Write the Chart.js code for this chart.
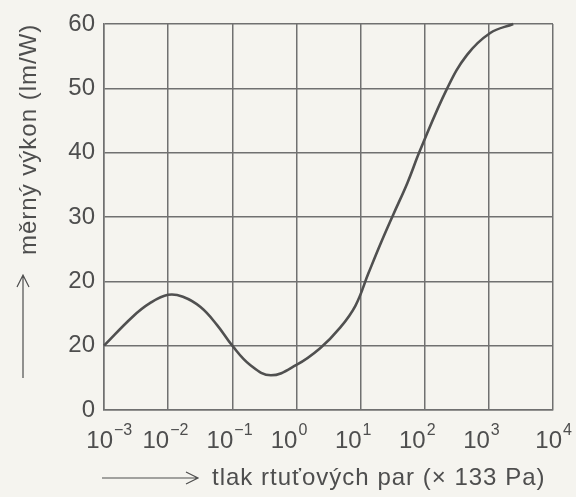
<!DOCTYPE html>
<html lang="cs">
<head>
<meta charset="UTF-8">
<title>Měrný výkon rtuťové výbojky</title>
<script src="https://cdn.jsdelivr.net/npm/chart.js"></script>
<style>
  html, body { margin: 0; padding: 0; background: #f5f4ef; }
  #wrap { width: 576px; height: 497px; }
</style>
</head>
<body>
<div id="wrap"><canvas id="chart" width="576" height="497"></canvas></div>
<script>
// pressure in units of 133 Pa, efficacy in lm/W
const pressure = [0.001, 0.0028, 0.0052, 0.01, 0.017, 0.032, 0.058, 0.1, 0.19, 0.4, 1, 2.34, 4.8, 8.3, 13.2, 20.4, 32.4, 53.7, 85, 224, 457, 1050, 2400];
const efficacy = [10, 14.5, 16.6, 17.9, 17.6, 16, 13.2, 10, 7, 5.4, 7, 9.6, 12.8, 16.2, 21.2, 25.8, 30.4, 35.3, 40.4, 50, 55.2, 58.6, 60];

const xTicks = [1e-3, 1e-2, 1e-1, 1e0, 1e1, 1e2, 1e3, 1e4];
const xExponents = ['\u22123', '\u22122', '\u22121', '0', '1', '2', '3', '4'];
const yTicks = [0, 10, 20, 30, 40, 50, 60];
const yTickLabels = ['0', '20', '20', '30', '40', '50', '60'];  // as printed

const xTitle = 'tlak rtuťových par (× 133 Pa)';
const yTitle = 'měrný výkon (lm/W)';

const ink = '#4e4e4e';
const gridColor = '#707070';
const curveColor = '#505050';
const fontFamily = '"Liberation Sans", Arial, sans-serif';

// draws x tick labels with superscripts and both axis titles with arrows
const labelsPlugin = {
  id: 'labels',
  afterDraw(chart) {
    const { ctx, scales: { x }, chartArea } = chart;
    ctx.save();
    ctx.fillStyle = ink;
    ctx.strokeStyle = ink;
    ctx.textBaseline = 'alphabetic';

    xTicks.forEach((v, i) => {
      let px = x.getPixelForValue(v) + 1;
      if (i === 0 || i === xTicks.length - 1) px += 8;
      ctx.font = '24px ' + fontFamily;
      ctx.textAlign = 'right';
      ctx.fillText('10', px, chartArea.bottom + 38);
      ctx.font = '16px ' + fontFamily;
      ctx.textAlign = 'left';
      ctx.fillText(xExponents[i], px + 1, chartArea.bottom + 25);
    });

    // x title
    ctx.lineWidth = 1.2;
    const ay = chartArea.bottom + 68;
    ctx.beginPath();
    ctx.moveTo(102, ay); ctx.lineTo(198, ay);
    ctx.moveTo(186, ay - 6); ctx.lineTo(198, ay); ctx.lineTo(186, ay + 6);
    ctx.stroke();
    ctx.font = '24px ' + fontFamily;
    ctx.letterSpacing = '1px';
    ctx.textAlign = 'left';
    ctx.fillText(xTitle, 212, ay + 7);

    // y title, rotated
    ctx.save();
    ctx.translate(36, 255);
    ctx.rotate(-Math.PI / 2);
    ctx.fillText(yTitle, 0, 0);
    ctx.restore();
    ctx.letterSpacing = '0px';

    ctx.beginPath();
    ctx.moveTo(23, 378); ctx.lineTo(23, 275);
    ctx.moveTo(17, 287); ctx.lineTo(23, 275); ctx.lineTo(29, 287);
    ctx.stroke();
    ctx.restore();
  }
};

const ctx = document.getElementById('chart').getContext('2d');
const chart = new Chart(ctx, {
  type: 'line',
  data: {
    datasets: [{
      data: pressure.map((p, i) => ({ x: p, y: efficacy[i] })),
      borderColor: curveColor,
      borderWidth: 2.6,
      pointRadius: 0,
      fill: false,
      tension: 0.4,
      clip: 6
    }]
  },
  options: {
    responsive: false,
    animation: false,
    devicePixelRatio: 1,
    layout: { padding: { left: 0, right: 23, top: 24, bottom: 0 } },
    plugins: { legend: { display: false }, tooltip: { enabled: false } },
    scales: {
      x: {
        type: 'logarithmic',
        min: 1e-3,
        max: 1e4,
        afterBuildTicks: s => { s.ticks = xTicks.map(v => ({ value: v })); },
        afterFit: s => { s.height = 87; s.paddingLeft = 0; s.paddingRight = 0; },
        ticks: { display: false },
        grid: { color: gridColor, lineWidth: 1.5, drawTicks: false },
        border: { color: gridColor, width: 1.5 }
      },
      y: {
        min: 0,
        max: 60,
        afterBuildTicks: s => { s.ticks = yTicks.map(v => ({ value: v })); },
        afterFit: s => { s.width = 104; s.paddingTop = 0; s.paddingBottom = 0; },
        ticks: {
          callback: (v, i) => yTickLabels[i],
          color: ink,
          font: { family: fontFamily, size: 24 },
          padding: 9
        },
        grid: { color: gridColor, lineWidth: 1.5, drawTicks: false },
        border: { color: gridColor, width: 1.5 }
      }
    }
  },
  plugins: [labelsPlugin]
});
</script>
</body>
</html>
